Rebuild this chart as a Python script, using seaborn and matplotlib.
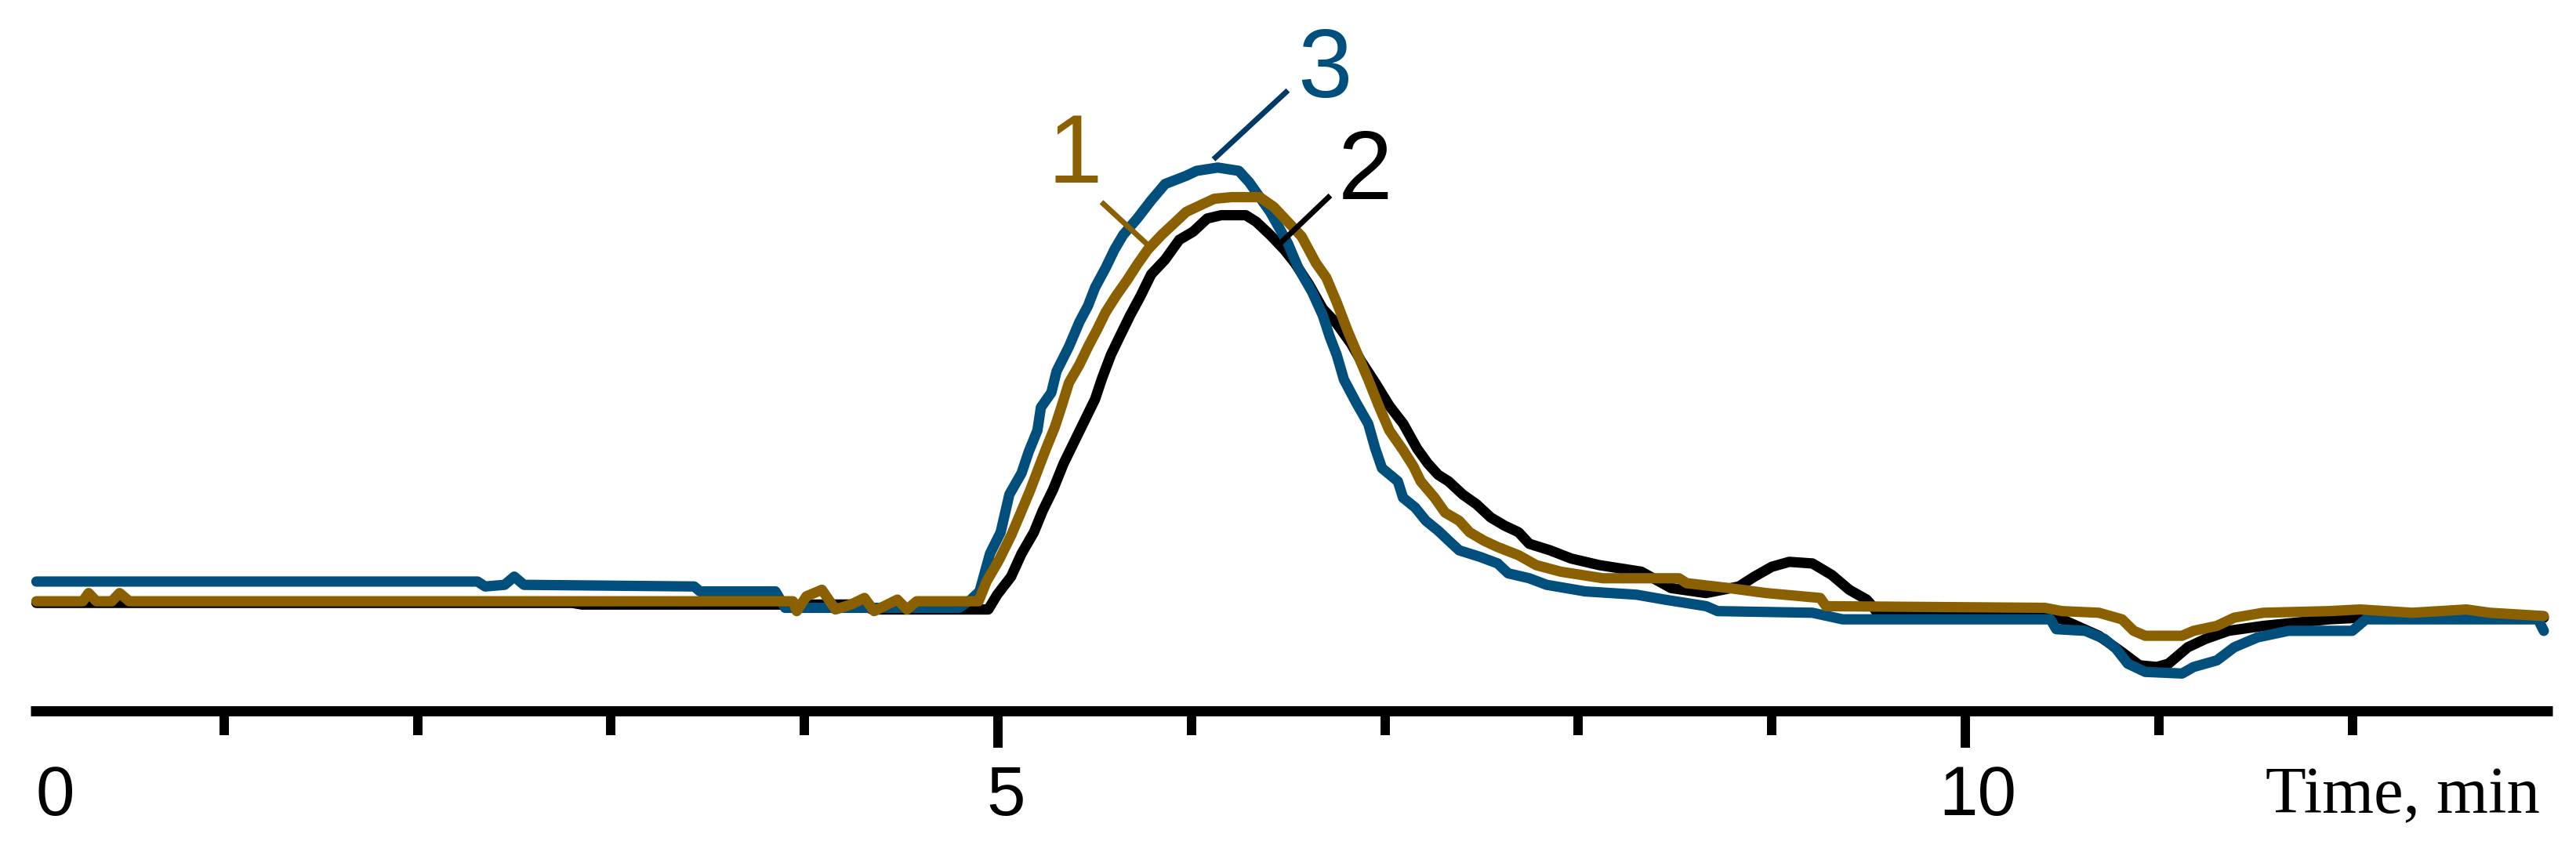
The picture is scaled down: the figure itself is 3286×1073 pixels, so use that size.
import matplotlib
matplotlib.use('Agg')
import matplotlib.pyplot as plt
import matplotlib.transforms as mtransforms
import seaborn as sns
import pandas as pd

# chromatograms: time in min, signal in arbitrary units (baseline = 0)
t_1 = [0.03, 0.27, 0.30, 0.34, 0.42, 0.46, 0.51, 3.94, 3.96, 4.01, 4.09, 4.16, 4.24, 4.31, 4.36, 4.48, 4.53, 4.58, 4.90,
       4.941, 5.005, 5.068, 5.122, 5.168, 5.213, 5.249, 5.294, 5.330, 5.367, 5.421, 5.466, 5.511, 5.557, 5.611, 5.665,
       5.720, 5.774, 5.846, 5.919, 5.973, 6.045, 6.118, 6.208, 6.353, 6.426, 6.498, 6.570, 6.643, 6.697, 6.751, 6.806,
       6.860, 6.914, 6.968, 7.023, 7.094, 7.148, 7.185, 7.257, 7.311, 7.384, 7.438, 7.510, 7.583, 7.691, 7.782, 7.909,
       8.126, 8.52, 8.56, 8.78, 8.97, 9.25, 9.28, 10.41, 10.50, 10.69, 10.81, 10.87, 10.93, 11.12, 11.18, 11.30, 11.39,
       11.54, 11.88, 12.04, 12.31, 12.59, 12.71, 12.99]
s_1 = [0, 0, 5, 0, 0, 5, 0, 0, -6, 3, 7, -5, -2, 2, -6, 1, -5, 0, 0,
       12, 25, 40, 55, 68, 82, 93, 106, 119, 133, 144, 155, 165, 176, 186, 195,
       205, 214, 223, 231, 237, 241, 245, 246, 246, 240, 231, 222, 206, 197, 182, 165,
       150, 135, 119, 104, 92, 82, 73, 63, 54, 49, 42, 37, 33, 28, 22, 18,
       14, 14, 11, 8, 5, 2, -3, -4, -6, -7, -11, -18, -21, -21, -18, -15, -10,
       -7, -6, -5, -7, -5, -7, -9]

t_2 = [0.03, 2.80, 2.85, 4.30, 4.35, 4.95,
       4.996, 5.068, 5.122, 5.186, 5.231, 5.285, 5.340, 5.394, 5.448, 5.502, 5.539, 5.584, 5.629, 5.683, 5.738,
       5.792, 5.864, 5.937, 6.009, 6.082, 6.154, 6.281, 6.335, 6.407, 6.480, 6.534, 6.607, 6.679, 6.751, 6.824,
       6.878, 6.950, 7.023, 7.095, 7.166, 7.221, 7.275, 7.329, 7.402, 7.474, 7.547, 7.619, 7.691, 7.746, 7.854,
       7.963, 8.108, 8.325, 8.48, 8.66, 8.83, 8.91, 9.00, 9.09, 9.21, 9.31, 9.40, 9.49, 9.52, 9.55, 10.40, 10.50,
       10.69, 10.81, 10.90, 10.99, 11.05, 11.15, 11.24, 11.36, 11.54, 11.88, 12.04, 12.99]
s_2 = [-1, -1, -2, -2, -5, -5,
       4, 15, 29, 42, 55, 68, 84, 97, 110, 123, 136, 150, 161, 174, 186,
       199, 208, 220, 225, 233, 235, 235, 231, 223, 214, 206, 193, 178, 169, 157,
       146, 133, 119, 108, 93, 84, 77, 73, 65, 59, 51, 46, 42, 35, 31,
       26, 22, 18, 8, 5, 9, 15, 21, 24, 23, 16, 7, 1, -3, -8, -9, -11,
       -21, -31, -39, -40, -38, -28, -23, -18, -15, -11, -10, -10]

t_3 = [0.03, 2.31, 2.35, 2.45, 2.50, 2.55, 3.43, 3.46, 3.85, 3.90, 4.80, 4.86,
       4.905, 4.959, 5.014, 5.059, 5.122, 5.159, 5.204, 5.222, 5.276, 5.303, 5.367, 5.421, 5.466, 5.502, 5.557,
       5.602, 5.647, 5.720, 5.792, 5.864, 5.973, 6.027, 6.136, 6.245, 6.299, 6.335, 6.407, 6.498, 6.552, 6.625,
       6.679, 6.715, 6.751, 6.788, 6.851, 6.914, 6.950, 6.985, 7.067, 7.094, 7.157, 7.212, 7.275, 7.329, 7.384,
       7.492, 7.583, 7.637, 7.746, 7.836, 8.035, 8.30, 8.446, 8.661, 8.72, 9.21, 9.366, 10.44, 10.47, 10.62,
       10.72, 10.78, 10.84, 10.93, 11.12, 11.18, 11.30, 11.39, 11.51, 11.67, 12.00, 12.07, 12.96, 12.99]
s_3 = [12, 12, 9, 10, 15, 10, 9, 6, 6, -4, -4, 1,
       6, 29, 42, 65, 78, 91, 104, 118, 127, 140, 155, 170, 180, 191, 203,
       214, 223, 233, 244, 254, 259, 262, 264, 262, 255, 249, 237, 218, 203, 188,
       174, 161, 150, 135, 121, 108, 93, 81, 73, 63, 57, 49, 43, 37, 31,
       27, 23, 17, 14, 10, 6, 4, 1, -3, -6, -7, -11, -11, -17, -18,
       -23, -29, -38, -43, -44, -40, -36, -28, -22, -18, -18, -11, -11, -18]

labels = ['1', '2', '3']
colors = {'1': '#8B6000', '2': '#000000', '3': '#004F7C'}
leader_colors = {'1': '#8B6000', '2': '#000000', '3': '#003A66'}
# label anchor (x, baseline) and leader line ends, in data units
label_pos = {'1': (5.40, 255), '2': (6.90, 245), '3': (6.69, 307)}
leader_x = {'1': [5.535, 5.774], '2': [6.718, 6.451], '3': [6.114, 6.499]}
leader_y = {'1': [243, 217], '2': [247, 217], '3': [269, 311]}

df = pd.concat([
    pd.DataFrame({'time': t_1, 'signal': s_1, 'sample': '1'}),
    pd.DataFrame({'time': t_2, 'signal': s_2, 'sample': '2'}),
    pd.DataFrame({'time': t_3, 'signal': s_3, 'sample': '3'}),
], ignore_index=True)

sns.set_style('white')
plt.rcParams['text.color'] = 'black'

W, H = 3287, 1073
fig = plt.figure(figsize=(W / 100, H / 100), dpi=100)
ax = fig.add_axes([39 / W, 166.5 / H, 3217 / W, 906.5 / H])

for name, z in [('2', 2), ('3', 3), ('1', 4)]:
    n_before = len(ax.lines)
    sns.lineplot(data=df[df['sample'] == name], x='time', y='signal', color=colors[name],
                 sort=False, estimator=None, legend=False, ax=ax)
    for line in ax.lines[n_before:]:
        line.set_linewidth(9.5)
        line.set_zorder(z)

for name in labels:
    ax.plot(leader_x[name], leader_y[name], color=leader_colors[name], linewidth=5,
            solid_capstyle='butt', zorder=5)
    ax.text(label_pos[name][0], label_pos[name][1], name, color=colors[name],
            fontsize=90, ha='center', va='baseline',
            family=['Liberation Sans Narrow', 'Liberation Sans', 'DejaVu Sans'])

ax.set_xlim(0, 3217 / 246.8)
ax.set_ylim(-66.5, 366)

for side in ['left', 'right', 'top']:
    ax.spines[side].set_visible(False)
ax.spines['bottom'].set_linewidth(9.4)
ax.spines['bottom'].set_capstyle('butt')
ax.spines['bottom'].set_color('black')

ax.set_yticks([])
ax.set_xticks([0, 5, 10])
ax.set_xticklabels(['0', '5', '10'])
ax.set_xticks([1, 2, 3, 4, 6, 7, 8, 9, 11, 12], minor=True)
ax.tick_params(axis='x', which='major', direction='out', length=33.5, width=8.6,
               color='black', labelcolor='black', pad=16, labelsize=64, bottom=True)
ax.tick_params(axis='x', which='minor', direction='out', length=22, width=8.6,
               color='black', bottom=True)
ax.xaxis.get_major_ticks()[0].tick1line.set_visible(False)
ax.set_xlabel('')
ax.set_ylabel('')

shifts = [31, 10, 16]
for lab, dx in zip(ax.get_xticklabels(), shifts):
    lab.set_family(['Liberation Sans Narrow', 'Liberation Sans', 'DejaVu Sans'])
    lab.set_transform(lab.get_transform() + mtransforms.ScaledTranslation(dx / 100, 0, fig.dpi_scale_trans))

fig.text(3065 / W, (H - 1037) / H, 'Time, min', fontsize=61, color='black', ha='center', va='baseline',
         family=['Liberation Serif', 'DejaVu Serif'])

fig.savefig('out.png', dpi=100, facecolor='white')
